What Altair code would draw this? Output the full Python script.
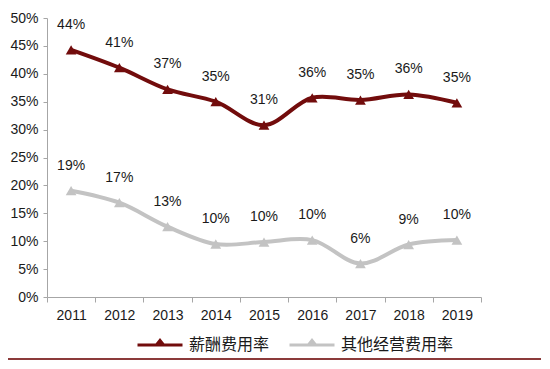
import altair as alt
import pandas as pd

years = ["2011", "2012", "2013", "2014", "2015", "2016", "2017", "2018", "2019"]
salary = [44.3, 41.1, 37.2, 35.0, 30.8, 35.7, 35.3, 36.3, 34.8]
other = [19.05, 16.9, 12.6, 9.5, 9.85, 10.2, 6.0, 9.4, 10.2]
salary_labels = ["44%", "41%", "37%", "35%", "31%", "36%", "35%", "36%", "35%"]
other_labels = ["19%", "17%", "13%", "10%", "10%", "10%", "6%", "9%", "10%"]
series_names = ["薪酬费用率", "其他经营费用率"]
colors = ["#720C0C", "#C3C3C3"]
y_ticks = [0, 5, 10, 15, 20, 25, 30, 35, 40, 45, 50]

rows = []
for i, y in enumerate(years):
    rows.append({"year": y, "series": series_names[0], "value": salary[i], "label": salary_labels[i]})
    rows.append({"year": y, "series": series_names[1], "value": other[i], "label": other_labels[i]})
df = pd.DataFrame(rows)

font = "Liberation Sans"

x = alt.X("year:N", sort=years, title=None,
          scale=alt.Scale(paddingInner=0, paddingOuter=0),
          axis=alt.Axis(labelAngle=0, tickBand="extent", domainColor="#A6A6A6",
                        tickColor="#A6A6A6", tickSize=5, labelPadding=6,
                        labelFont=font, labelFontSize=14, labelColor="#1a1a1a",
                        labelOverlap=False))
y = alt.Y("value:Q", title=None,
          scale=alt.Scale(domain=[0, 50], nice=False),
          axis=alt.Axis(values=y_ticks, labelExpr="datum.value + '%'",
                        grid=False, domainColor="#A6A6A6", tickColor="#A6A6A6",
                        tickSize=4, labelPadding=5, labelFont=font, labelFontSize=14,
                        labelColor="#1a1a1a", labelOverlap=False, labelBound=False,
                        labelFlush=False))
color = alt.Color("series:N", sort=series_names,
                  scale=alt.Scale(domain=series_names, range=colors),
                  legend=alt.Legend(title=None, orient="none", direction="horizontal",
                                    legendX=89, legendY=303,
                                    symbolType="M-1,0 L1,0 M-0.16,0 L0,-0.2 L0.16,0 Z",
                                    symbolSize=2025, symbolStrokeWidth=3,
                                    labelFont="Noto Sans CJK SC", labelFontSize=16,
                                    labelColor="#1a1a1a", labelOffset=5,
                                    columnPadding=13))

base = alt.Chart(df).encode(x=x, y=y)

lines = base.mark_line(interpolate="catmull-rom", strokeWidth=4).encode(color=color)
points = base.mark_point(shape="triangle-up", filled=True, size=115, opacity=1).encode(color=color)
labels = base.mark_text(font=font, fontSize=14, dy=-25, color="#1a1a1a",
                        baseline="middle").encode(text="label:N")

border = alt.Chart(pd.DataFrame({"v": [0]})).mark_rule(color="#8B3A3A", strokeWidth=2).encode(
    x=alt.value(-40), x2=alt.value(494), y=alt.value(341))

chart = alt.layer(lines, points, labels, border).properties(
    width=434, height=279,
    autosize=alt.AutoSizeParams(type="none"),
    padding={"left": 39, "top": 10, "right": 61, "bottom": 64},
).configure_view(stroke=None)

chart.save("out.html", embed_options={"renderer": "svg", "actions": False})
